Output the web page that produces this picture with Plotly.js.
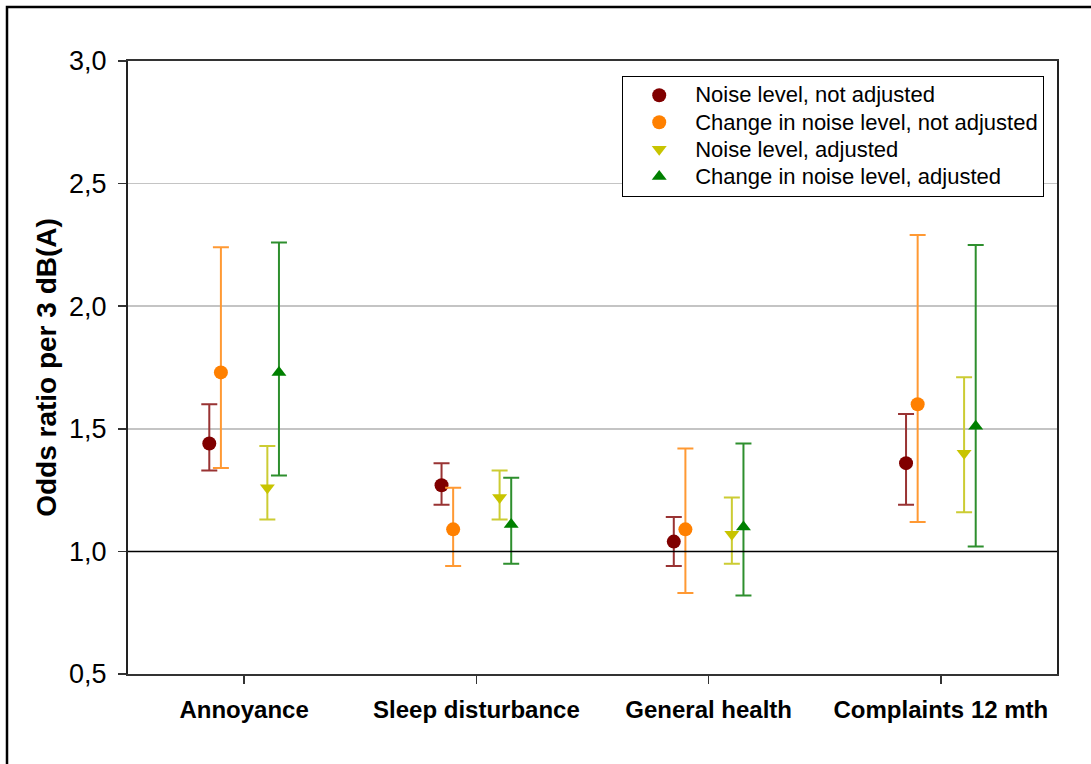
<!DOCTYPE html>
<html>
<head>
<meta charset="utf-8">
<script src="https://cdn.plot.ly/plotly-3.0.1.min.js"></script>
<style>
  html, body { margin: 0; padding: 0; background: #fff; }
  #chart { width: 1091px; height: 764px; }
</style>
</head>
<body>
<div id="chart"></div>
<script>
// ---- data ----
const categories = ['Annoyance', 'Sleep disturbance', 'General health', 'Complaints 12 mth'];
const seriesNames = [
  'Noise level, not adjusted',
  'Change in noise level, not adjusted',
  'Noise level, adjusted',
  'Change in noise level, adjusted'
];
const noiseNotAdj      = [1.44, 1.27, 1.04, 1.36];
const noiseNotAdjLow   = [1.33, 1.19, 0.94, 1.19];
const noiseNotAdjHigh  = [1.60, 1.36, 1.14, 1.56];

const changeNotAdj     = [1.73, 1.09, 1.09, 1.60];
const changeNotAdjLow  = [1.34, 0.94, 0.83, 1.12];
const changeNotAdjHigh = [2.24, 1.26, 1.42, 2.29];

const noiseAdj         = [1.26, 1.22, 1.07, 1.40];
const noiseAdjLow      = [1.13, 1.13, 0.95, 1.16];
const noiseAdjHigh     = [1.43, 1.33, 1.22, 1.71];

const changeAdj        = [1.73, 1.11, 1.10, 1.51];
const changeAdjLow     = [1.31, 0.95, 0.82, 1.02];
const changeAdjHigh    = [2.26, 1.30, 1.44, 2.25];

const yTickVals = [0.5, 1.0, 1.5, 2.0, 2.5, 3.0];
const referenceOR = 1.0;

// ---- styling ----
const offsets = [-0.15, -0.10, 0.10, 0.15];
const markerColors = ['#800000', '#FF8000', '#C8C400', '#008000'];
const barColors = ['#993333', '#FF9933', '#CCCC33', '#2E8F2E'];
const symbols = ['circle', 'circle', 'triangle-down', 'triangle-up'];
const sizes = [14, 14, 13, 13];

const values = [noiseNotAdj, changeNotAdj, noiseAdj, changeAdj];
const lows = [noiseNotAdjLow, changeNotAdjLow, noiseAdjLow, changeAdjLow];
const highs = [noiseNotAdjHigh, changeNotAdjHigh, noiseAdjHigh, changeAdjHigh];

const traces = values.map((vals, s) => ({
  type: 'scatter',
  mode: 'markers',
  name: '<span style="font-size:22px">' + seriesNames[s] + '</span>',
  x: categories.map((c, i) => i + offsets[s]),
  y: vals,
  marker: { color: markerColors[s], size: sizes[s], symbol: symbols[s], line: { width: 0 } },
  error_y: {
    type: 'data',
    symmetric: false,
    array: vals.map((v, i) => highs[s][i] - v),
    arrayminus: vals.map((v, i) => v - lows[s][i]),
    color: barColors[s],
    thickness: 2,
    width: 8
  },
  hoverinfo: 'x+y'
}));

const xRange = [-0.5, categories.length - 0.5];

const layout = {
  width: 1091,
  height: 764,
  margin: { l: 128, r: 34, t: 61, b: 90 },
  paper_bgcolor: '#ffffff',
  plot_bgcolor: '#ffffff',
  separators: ',.',
  font: { family: 'Arial, "Liberation Sans", sans-serif', color: '#000' },
  showlegend: true,
  legend: {
    x: 0.532, y: 0.976, xanchor: 'left', yanchor: 'top',
    bgcolor: '#ffffff', bordercolor: '#000000', borderwidth: 1,
    font: { size: 18.5, color: '#000' },
    itemwidth: 62,
    tracegroupgap: 0
  },
  xaxis: {
    range: xRange,
    tickmode: 'array',
    tickvals: categories.map((c, i) => i),
    ticktext: categories.map(c => '<b>' + c + '</b>'),
    tickfont: { size: 24, color: '#000' },
    ticks: 'outside', ticklen: 8, tickwidth: 1.5, tickcolor: '#333',
    ticklabelstandoff: 5,
    showgrid: false, zeroline: false,
    showline: true, linecolor: '#333', linewidth: 2, mirror: true,
    fixedrange: true
  },
  yaxis: {
    range: [0.5, 3.0],
    tickmode: 'array',
    tickvals: yTickVals,
    tickformat: '.1f',
    tickfont: { size: 27, color: '#000' },
    ticks: 'outside', ticklen: 8, tickwidth: 1.5, tickcolor: '#333',
    ticklabelstandoff: 6,
    showgrid: true, gridcolor: '#c4c4c4', gridwidth: 1.5,
    zeroline: false,
    showline: true, linecolor: '#222', linewidth: 2, mirror: true,
    title: { text: '<b>Odds ratio per 3 dB(A)</b>', font: { size: 28, color: '#000' }, standoff: 4 },
    fixedrange: true
  },
  shapes: [
    { type: 'line', xref: 'x', yref: 'y', x0: xRange[0], x1: xRange[1], y0: referenceOR, y1: referenceOR,
      line: { color: '#000', width: 1.5 }, layer: 'above' },
    { type: 'rect', xref: 'paper', yref: 'paper',
      x0: (7 - 128) / 929, x1: (1100 - 128) / 929,
      y0: (674 - 780) / 613, y1: (674 - 7) / 613,
      line: { color: '#000', width: 2.5 }, fillcolor: 'rgba(0,0,0,0)', layer: 'below' }
  ]
};

Plotly.newPlot('chart', traces, layout, { displayModeBar: false, staticPlot: true });
</script>
</body>
</html>
